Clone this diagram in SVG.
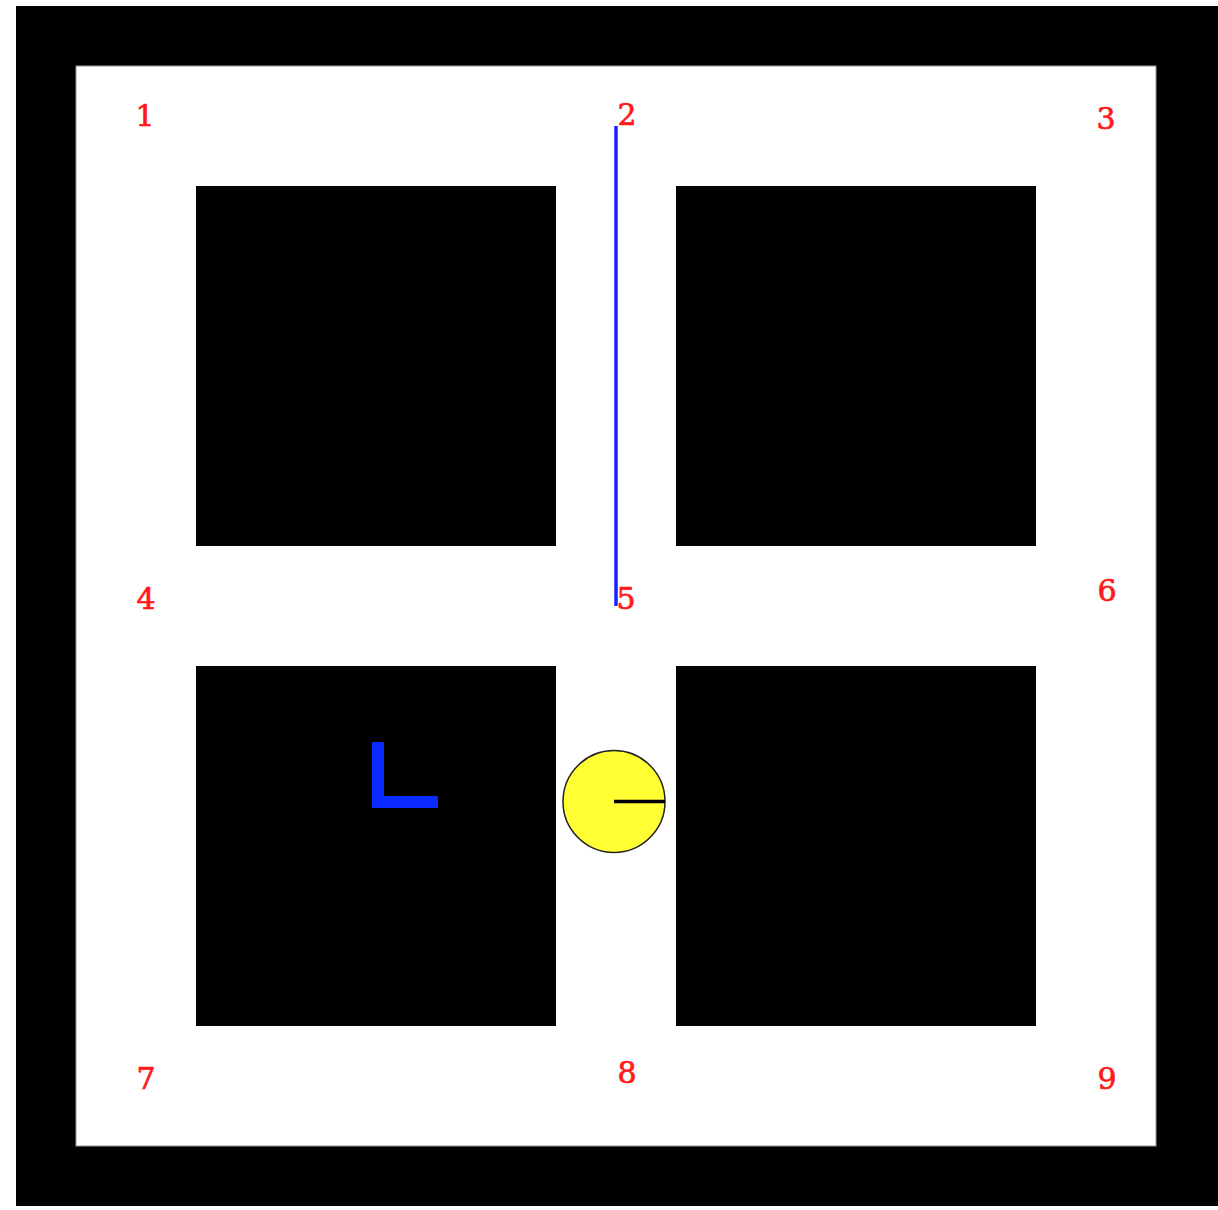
<svg xmlns="http://www.w3.org/2000/svg" width="1218" height="1210" viewBox="0 0 1218 1210">
<style>
.lbl{font-family:"DejaVu Serif","Liberation Serif",serif;font-size:30px;fill:#ff1a1a;stroke:#ff1a1a;stroke-width:0.7px;text-anchor:middle}
.blk{fill:#000}
</style>
<rect x="0" y="0" width="1218" height="1210" fill="#fff"/>
<g id="frame">
<rect x="16" y="6" width="1202" height="1200" fill="#000"/>
<rect x="76" y="66" width="1080" height="1080" fill="#fff" stroke="#999" stroke-width="1"/>
</g>
<g id="blocks">
<rect id="block-tl" class="blk" x="196" y="186" width="360" height="360"/>
<rect id="block-tr" class="blk" x="676" y="186" width="360" height="360"/>
<rect id="block-bl" class="blk" x="196" y="666" width="360" height="360"/>
<rect id="block-br" class="blk" x="676" y="666" width="360" height="360"/>
</g>
<g id="connectors">
<line x1="616" y1="126" x2="616" y2="606" stroke="#1f1fff" stroke-width="3.5"/>
</g>
<g id="labels">
<text id="n1" class="lbl" x="145" y="126">1</text>
<text id="n2" class="lbl" x="627" y="125">2</text>
<text id="n3" class="lbl" x="1106" y="129">3</text>
<text id="n4" class="lbl" x="146" y="609">4</text>
<text id="n5" class="lbl" x="626" y="609">5</text>
<text id="n6" class="lbl" x="1107" y="601">6</text>
<text id="n7" class="lbl" x="146" y="1089">7</text>
<text id="n8" class="lbl" x="627" y="1083">8</text>
<text id="n9" class="lbl" x="1107" y="1089">9</text>
</g>
<g id="marker-L">
<path d="M372,742 H384 V796 H438 V808 H372 Z" fill="#0a2aff"/>
</g>
<g id="robot">
<circle cx="614" cy="801.5" r="51" fill="#ffff33" stroke="#222" stroke-width="1.5"/>
<line x1="614" y1="801.5" x2="665" y2="801.5" stroke="#000" stroke-width="3.5"/>
</g>
</svg>
